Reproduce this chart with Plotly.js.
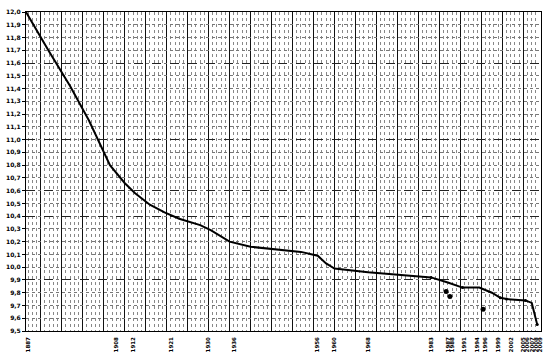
<!DOCTYPE html>
<html>
<head>
<meta charset="utf-8">
<script src="https://cdn.plot.ly/plotly-3.0.1.min.js"></script>
<style>html,body{margin:0;padding:0;background:#fff;}#chart{width:550px;height:357px;}</style>
</head>
<body>
<div id="chart"></div>
<script>
// Curve of the record times (years vs seconds)
var curveYears = [1886.5, 1892, 1897, 1901.5, 1906.5, 1910, 1912.5, 1916, 1919.5, 1923, 1928, 1930.5, 1935, 1940, 1952, 1956, 1958, 1960, 1968, 1975.5, 1983, 1987, 1990.5, 1994.5, 1997.5, 1999.5, 2001, 2005.5, 2007, 2008.3];
var curveTimes = [12.00, 11.69, 11.42, 11.15, 10.80, 10.66, 10.58, 10.49, 10.43, 10.38, 10.33, 10.29, 10.20, 10.16, 10.12, 10.09, 10.03, 9.99, 9.96, 9.94, 9.92, 9.88, 9.84, 9.84, 9.80, 9.76, 9.75, 9.74, 9.72, 9.55];
// small points on the curve
var pointYears = [1983, 1990.5, 1999.5, 2001, 2005.5, 2008.3];
var pointTimes = [9.92, 9.84, 9.76, 9.75, 9.74, 9.55];
// separate dots below the curve
var dotYears = [1986.6, 1987.5, 1995.4];
var dotTimes = [9.81, 9.77, 9.67];
// x tick labels (years)
var labelYears = [1887, 1908, 1912, 1921, 1930, 1936, 1956, 1960, 1968, 1983, 1987, 1988, 1991, 1994, 1996, 1999, 2002, 2005, 2006, 2007, 2008, 2009];
var labelText = labelYears.map(String);
// heavier dashed horizontal lines
var heavyLines = [11.6, 11.0, 10.6, 10.4, 9.9];

var xr = [1886.5, 2009.2];
var yr = [9.5, 12.0];

var traces = [
  {x: curveYears, y: curveTimes, xaxis: 'x', yaxis: 'y', mode: 'lines',
   line: {color: '#000', width: 2}, hoverinfo: 'skip', showlegend: false},
  {x: pointYears, y: pointTimes, xaxis: 'x', yaxis: 'y', mode: 'markers',
   marker: {color: '#000', size: 3}, hoverinfo: 'skip', showlegend: false},
  {x: dotYears, y: dotTimes, xaxis: 'x2', yaxis: 'y2', mode: 'markers',
   marker: {color: '#000', size: 5}, hoverinfo: 'skip', showlegend: false}
];

var layout = {
  width: 550, height: 357,
  margin: {l: 26, r: 9, t: 12, b: 26, pad: 0},
  paper_bgcolor: '#fff', plot_bgcolor: '#fff',
  separators: ', ',
  showlegend: false,
  font: {family: 'DejaVu Sans', color: '#000', size: 6},
  xaxis: {
    range: xr, showticklabels: false, ticks: '',
    showgrid: true, dtick: 5, tick0: 1885, gridcolor: '#111', gridwidth: 1,
    minor: {dtick: 1, tick0: 1885, showgrid: true, gridcolor: '#888', griddash: 'dot', gridwidth: 1},
    zeroline: false, showline: true, mirror: true, linecolor: '#000', linewidth: 1
  },
  yaxis: {
    range: yr, dtick: 0.1, tick0: 9.5, tickformat: '.1f',
    ticks: 'outside', ticklen: 3, tickcolor: '#000',
    tickfont: {family: 'DejaVu Sans', size: 6, color: '#000', weight: 'bold'},
    showgrid: true, gridcolor: '#777', griddash: 'dot', gridwidth: 1,
    zeroline: false, showline: true, mirror: true, linecolor: '#000', linewidth: 1
  },
  xaxis2: {
    range: xr, overlaying: 'x', anchor: 'y2', side: 'bottom',
    tickmode: 'array', tickvals: labelYears, ticktext: labelText, tickangle: -90,
    tickfont: {family: 'DejaVu Sans', size: 5.5, color: '#000', weight: 'bold'},
    ticks: '', ticklabelstandoff: 4, showgrid: false, zeroline: false, showline: false
  },
  yaxis2: {
    range: yr, overlaying: 'y', anchor: 'x2', side: 'left',
    tickmode: 'array', tickvals: heavyLines, showticklabels: false, ticks: '',
    showgrid: true, gridcolor: '#222', griddash: 'dash', gridwidth: 1,
    zeroline: false, showline: false
  }
};

Plotly.newPlot('chart', traces, layout, {staticPlot: true, displayModeBar: false});
</script>
</body>
</html>
